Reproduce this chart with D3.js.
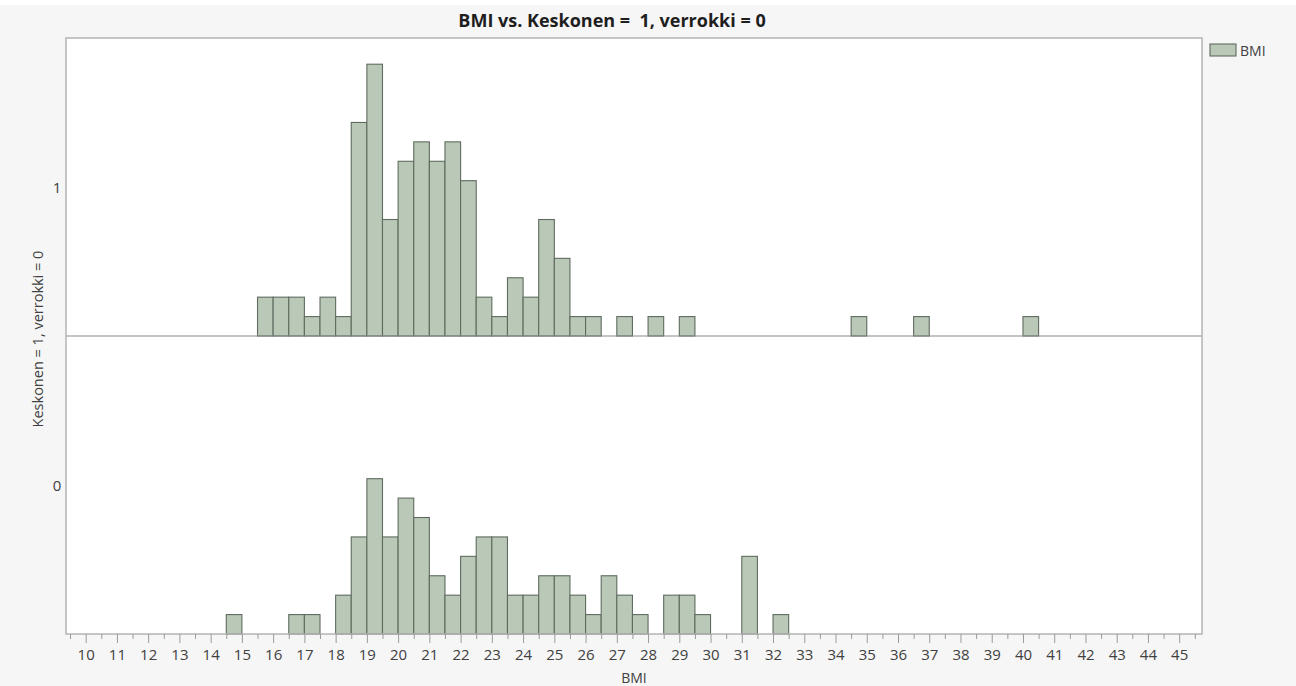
<!DOCTYPE html>
<html>
<head>
<meta charset="utf-8">
<script src="https://cdn.jsdelivr.net/npm/d3@7"></script>
<style>
  html, body { margin: 0; padding: 0; background: #f6f6f6; }
  svg { display: block; }
  text { font-family: "Open Sans", "Noto Sans", sans-serif; }
</style>
</head>
<body>
<svg id="chart" width="1296" height="686"></svg>
<script>
// ---- data ----
const title = "BMI vs. Keskonen =  1, verrokki = 0";
const xLabel = "BMI";
const yLabel = "Keskonen = 1, verrokki = 0";
const legendLabel = "BMI";
const groups = ["1", "0"];            // top panel, bottom panel
const binWidth = 0.5;
const binStarts = [14.5, 15, 15.5, 16, 16.5, 17, 17.5, 18, 18.5, 19, 19.5, 20, 20.5, 21, 21.5, 22, 22.5, 23, 23.5, 24, 24.5, 25, 25.5, 26, 26.5, 27, 27.5, 28, 28.5, 29, 29.5, 30, 30.5, 31, 31.5, 32, 32.5, 33, 33.5, 34, 34.5, 35, 35.5, 36, 36.5, 37, 37.5, 38, 38.5, 39, 39.5, 40];
const countsCase = [0, 0, 2, 2, 2, 1, 2, 1, 11, 14, 6, 9, 10, 9, 10, 8, 2, 1, 3, 2, 6, 4, 1, 1, 0, 1, 0, 1, 0, 1, 0, 0, 0, 0, 0, 0, 0, 0, 0, 0, 1, 0, 0, 0, 1, 0, 0, 0, 0, 0, 0, 1];
const countsControl = [1, 0, 0, 0, 1, 1, 0, 2, 5, 8, 5, 7, 6, 3, 2, 4, 5, 5, 2, 2, 3, 3, 2, 1, 3, 2, 1, 0, 2, 2, 1, 0, 0, 4, 0, 1, 0, 0, 0, 0, 0, 0, 0, 0, 0, 0, 0, 0, 0, 0, 0, 0];
const xTicks = [10, 11, 12, 13, 14, 15, 16, 17, 18, 19, 20, 21, 22, 23, 24, 25, 26, 27, 28, 29, 30, 31, 32, 33, 34, 35, 36, 37, 38, 39, 40, 41, 42, 43, 44, 45];
const xMinorTicks = [9.5, 10.5, 11.5, 12.5, 13.5, 14.5, 15.5, 16.5, 17.5, 18.5, 19.5, 20.5, 21.5, 22.5, 23.5, 24.5, 25.5, 26.5, 27.5, 28.5, 29.5, 30.5, 31.5, 32.5, 33.5, 34.5, 35.5, 36.5, 37.5, 38.5, 39.5, 40.5, 41.5, 42.5, 43.5, 44.5, 45.5];
const xDomain = [9.37, 45.73];
const countMax = 15.35;

// ---- layout ----
const svg = d3.select("#chart");
const plot = { left: 66, right: 1202, top: 38, bottom: 634 };
const panelH = (plot.bottom - plot.top) / groups.length;

const barFill = "#b9c8b7";
const barStroke = "#5f6b5f";
const textCol = "#404040";

svg.append("rect").attr("x", 0).attr("y", 0).attr("width", 1296).attr("height", 5).attr("fill", "#ffffff");

const x = d3.scaleLinear().domain(xDomain).range([plot.left, plot.right]);

// plot background
svg.append("rect")
  .attr("x", plot.left).attr("y", plot.top)
  .attr("width", plot.right - plot.left).attr("height", plot.bottom - plot.top)
  .attr("fill", "#ffffff");

const seriesList = [countsCase, countsControl];
groups.forEach((g, gi) => {
  const top = plot.top + gi * panelH;
  const base = top + panelH;
  const y = d3.scaleLinear().domain([0, countMax]).range([base, top]);
  const data = binStarts.map((b, i) => ({ b, c: seriesList[gi][i] })).filter(d => d.c > 0);
  svg.append("g").selectAll("rect").data(data).join("rect")
    .attr("x", d => x(d.b))
    .attr("width", d => x(d.b + binWidth) - x(d.b))
    .attr("y", d => y(d.c))
    .attr("height", d => y(0) - y(d.c))
    .attr("fill", barFill)
    .attr("stroke", barStroke)
    .attr("stroke-width", 1.1);
  // category label
  svg.append("text")
    .attr("x", 57).attr("y", (top + base) / 2)
    .attr("text-anchor", "middle").attr("dominant-baseline", "central")
    .attr("font-size", 15).attr("fill", textCol)
    .text(g);
});

// divider between panels
svg.append("line")
  .attr("x1", plot.left).attr("x2", plot.right)
  .attr("y1", plot.top + panelH).attr("y2", plot.top + panelH)
  .attr("stroke", "#8a8a8a").attr("stroke-width", 1.2);

// frame
svg.append("rect")
  .attr("x", plot.left).attr("y", plot.top)
  .attr("width", plot.right - plot.left).attr("height", plot.bottom - plot.top)
  .attr("fill", "none").attr("stroke", "#b4b4b4").attr("stroke-width", 1.5);

// x axis (major)
const xAxis = d3.axisBottom(x).tickValues(xTicks).tickFormat(d3.format("d")).tickSize(9).tickPadding(6);
const gx = svg.append("g").attr("transform", `translate(0,${plot.bottom})`).call(xAxis);
gx.select(".domain").remove();
gx.selectAll(".tick line").attr("stroke", "#9a9a9a");
gx.selectAll(".tick text").attr("font-size", 15).attr("fill", textCol)
  .attr("font-family", "'Open Sans', 'Noto Sans', sans-serif");
// minor ticks
const xAxisMinor = d3.axisBottom(x).tickValues(xMinorTicks).tickFormat("").tickSize(5);
const gxm = svg.append("g").attr("transform", `translate(0,${plot.bottom})`).call(xAxisMinor);
gxm.select(".domain").remove();
gxm.selectAll(".tick line").attr("stroke", "#9a9a9a");

// x label
svg.append("text")
  .attr("x", (plot.left + plot.right) / 2).attr("y", 677)
  .attr("text-anchor", "middle").attr("dominant-baseline", "central")
  .attr("font-size", 14).attr("fill", textCol).text(xLabel);

// y label
svg.append("text")
  .attr("transform", `translate(37,${(plot.top + plot.bottom) / 2 + 3}) rotate(-90)`)
  .attr("text-anchor", "middle").attr("dominant-baseline", "central")
  .attr("font-size", 14.5).attr("fill", textCol).text(yLabel);

// title
svg.append("text")
  .attr("x", 612).attr("y", 20)
  .attr("text-anchor", "middle").attr("dominant-baseline", "central")
  .attr("font-size", 18).attr("font-weight", "bold").attr("fill", "#1e1e1e")
  .style("white-space", "pre")
  .text(title);

// legend
svg.append("rect")
  .attr("x", 1210).attr("y", 44).attr("width", 26).attr("height", 12)
  .attr("fill", barFill).attr("stroke", barStroke).attr("stroke-width", 1.1);
svg.append("text")
  .attr("x", 1240).attr("y", 50.5)
  .attr("dominant-baseline", "central")
  .attr("font-size", 14).attr("fill", textCol).text(legendLabel);
</script>
</body>
</html>
